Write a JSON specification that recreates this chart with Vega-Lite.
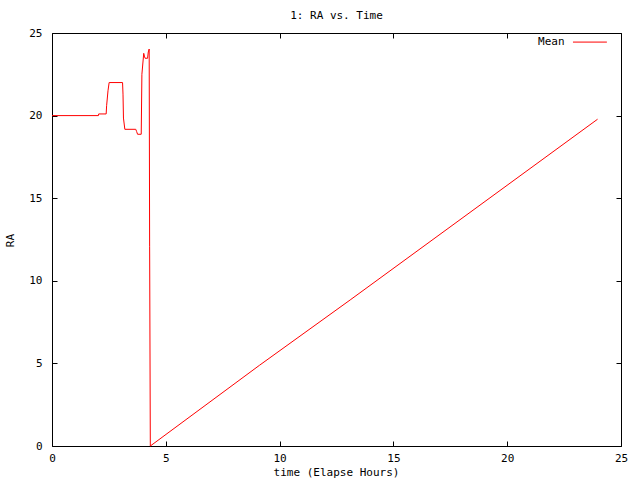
{
  "$schema": "https://vega.github.io/schema/vega-lite/v6.json",
  "background": "white",
  "autosize": "none",
  "padding": {"left": 52, "top": 33, "right": 19, "bottom": 34},
  "width": 569,
  "height": 413,
  "title": {
    "text": "1: RA vs. Time",
    "font": "DejaVu Sans Mono",
    "fontSize": 11,
    "fontWeight": "normal",
    "color": "black",
    "anchor": "middle",
    "offset": 6
  },
  "config": {
    "view": {"stroke": "black", "strokeWidth": 1},
    "axis": {
      "grid": false,
      "domain": false,
      "ticks": true,
      "tickColor": "black",
      "tickWidth": 1,
      "tickSize": 5,
      "offset": -5,
      "labelFlush": false,
      "labelFont": "DejaVu Sans Mono",
      "labelFontSize": 11,
      "labelColor": "black",
      "titleFont": "DejaVu Sans Mono",
      "titleFontSize": 11,
      "titleFontWeight": "normal",
      "titleColor": "black"
    }
  },
  "resolve": {"axis": {"x": "independent", "y": "independent"}},
  "layer": [
    {
      "data": {
        "values": [
          {"time": 0, "RA": 20},
          {"time": 2.04, "RA": 20},
          {"time": 2.05, "RA": 20.1},
          {"time": 2.38, "RA": 20.1},
          {"time": 2.4, "RA": 20.6},
          {"time": 2.46, "RA": 21.5},
          {"time": 2.51, "RA": 22.0},
          {"time": 3.1, "RA": 22.0},
          {"time": 3.12, "RA": 21.3},
          {"time": 3.14, "RA": 19.85},
          {"time": 3.2, "RA": 19.17},
          {"time": 3.68, "RA": 19.17},
          {"time": 3.72, "RA": 19.03},
          {"time": 3.76, "RA": 18.87},
          {"time": 3.92, "RA": 18.87},
          {"time": 3.95, "RA": 22.5},
          {"time": 4.03, "RA": 23.77},
          {"time": 4.06, "RA": 23.6},
          {"time": 4.09, "RA": 23.47},
          {"time": 4.2, "RA": 23.47},
          {"time": 4.23, "RA": 23.85},
          {"time": 4.27, "RA": 24.03},
          {"time": 4.29, "RA": 12.06},
          {"time": 4.32, "RA": 0},
          {"time": 9.11, "RA": 4.88},
          {"time": 13.1, "RA": 8.84},
          {"time": 23.97, "RA": 19.78}
        ]
      },
      "mark": {"type": "line", "color": "red", "strokeWidth": 1, "interpolate": "linear"},
      "encoding": {
        "x": {
          "field": "time",
          "type": "quantitative",
          "scale": {"domain": [0, 25], "nice": false, "zero": false},
          "axis": {
            "orient": "bottom",
            "values": [0, 5, 10, 15, 20, 25],
            "labelPadding": 6,
            "title": "time (Elapse Hours)",
            "titleX": 284,
            "titleY": 31,
            "titleBaseline": "middle",
            "titleAnchor": "middle"
          }
        },
        "y": {
          "field": "RA",
          "type": "quantitative",
          "scale": {"domain": [0, 25], "nice": false, "zero": false},
          "axis": {
            "orient": "left",
            "values": [0, 5, 10, 15, 20, 25],
            "labelPadding": 10,
            "title": "RA",
            "titleX": -47,
            "titleY": 207,
            "titleAngle": -90,
            "titleBaseline": "middle",
            "titleAlign": "center"
          }
        },
        "order": {"field": "time"}
      }
    },
    {
      "data": {"values": [{}]},
      "mark": {"type": "rule", "color": "red", "strokeWidth": 1},
      "encoding": {
        "x": {
          "datum": 22.89,
          "type": "quantitative",
          "axis": {"orient": "top", "values": [0, 5, 10, 15, 20, 25], "labels": false, "title": null}
        },
        "x2": {"datum": 24.38},
        "y": {
          "datum": 24.45,
          "type": "quantitative",
          "axis": {"orient": "right", "values": [0, 5, 10, 15, 20, 25], "labels": false, "title": null}
        }
      }
    },
    {
      "data": {"values": [{}]},
      "mark": {
        "type": "text",
        "text": "Mean",
        "align": "right",
        "baseline": "middle",
        "font": "DejaVu Sans Mono",
        "fontSize": 11,
        "color": "black"
      },
      "encoding": {
        "x": {"datum": 22.52, "type": "quantitative", "axis": null},
        "y": {"datum": 24.45, "type": "quantitative", "axis": null}
      }
    }
  ]
}
